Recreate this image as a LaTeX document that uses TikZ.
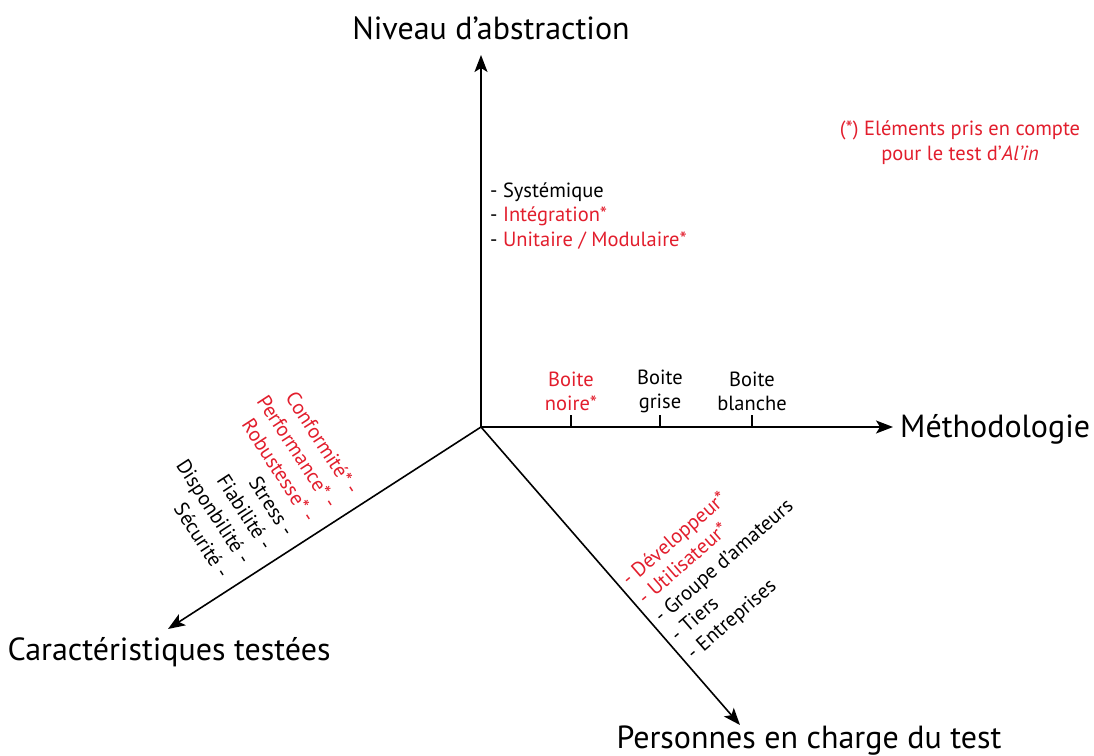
\documentclass[tikz,border=0pt]{standalone}
\usepackage{fontspec}
\setmainfont{PT Sans}
\usetikzlibrary{arrows.meta}
\definecolor{accent}{RGB}{226,30,45}
\begin{document}
\begin{tikzpicture}[x=1pt,y=1pt,
  axis/.style={line width=1.6pt,-{Stealth[length=17pt,width=13pt,inset=4pt]}},
  big/.style={font=\fontsize{32}{38}\selectfont, inner sep=0pt},
  small/.style={font=\fontsize{20.5}{25}\selectfont, inner sep=0pt},
  hl/.style={text=accent},
  tickmark/.style={line width=1.2pt}]
\useasboundingbox (0,0) rectangle (1094,755);
% axes
\coordinate (O) at (481,328);
\coordinate (T) at (481,700);
\coordinate (R) at (893,328);
\coordinate (LL) at (168,126);
\coordinate (LR) at (740,30);
\draw[axis] (O) -- (T);
\draw[axis] (O) -- (R);
\draw[axis] (O) -- (LL);
\draw[axis] (O) -- (LR);
% axis titles
\node[big, anchor=base] (tT) at (491,715) {Niveau d’abstraction};
\node[big, anchor=base west] (tR) at (900,317) {Méthodologie};
\node[big, anchor=base] (tLL) at (169,95) {Caractéristiques testées};
\node[big, anchor=base] (tLR) at (809,7) {Personnes en charge du test};
% note
\node[small, hl, anchor=base] (n1) at (960,619) {(*) Eléments pris en compte};
\node[small, hl, anchor=base] (n2) at (960,594) {pour le test d’\textit{Al’in}};
% vertical axis list
\node[small, anchor=base west] (v1) at (490,557) {- Systémique};
\node[small, anchor=base west] (v2) at (490,533) {- \textcolor{accent}{Intégration*}};
\node[small, anchor=base west] (v3) at (490,508) {- \textcolor{accent}{Unitaire / Modulaire*}};
% ticks on methodology axis
\coordinate (k1) at (571,328);
\coordinate (k2) at (660,328);
\coordinate (k3) at (752,328);
\draw[tickmark] (k1) -- ++(0,12);
\draw[tickmark] (k2) -- ++(0,12);
\draw[tickmark] (k3) -- ++(0,12);
\node[small, hl, anchor=base] (b1a) at (571,368) {Boite};
\node[small, hl, anchor=base] (b1b) at (571,344) {noire*};
\node[small, anchor=base] (b2a) at (660,370) {Boite};
\node[small, anchor=base] (b2b) at (660,346) {grise};
\node[small, anchor=base] (b3a) at (752,368) {Boite};
\node[small, anchor=base] (b3b) at (752,344) {blanche};
% characteristics (lower left)
\begin{scope}[every node/.style={small, anchor=base east, rotate=-57}]
\node[hl] (c1) at (348.5,259.0) {Conformité* -};
\node[hl] (c2) at (326.9,245.1) {Performance* -};
\node[hl] (c3) at (305.3,231.2) {Robustesse* -};
\node (c4) at (283.7,217.3) {Stress -};
\node (c5) at (262.1,203.4) {Fiabilité -};
\node (c6) at (240.5,189.5) {Disponbilité -};
\node (c7) at (218.9,175.6) {Sécurité -};
\end{scope}
% persons (lower right)
\begin{scope}[every node/.style={small, anchor=base west, rotate=41}]
\node[hl] (p1) at (629.0,168.0) {- Développeur*};
\node[hl] (p2) at (645.2,149.6) {- Utilisateur*};
\node (p3) at (661.4,131.2) {- Groupe d’amateurs};
\node (p4) at (677.6,112.8) {- Tiers};
\node (p5) at (693.8,94.4) {- Entreprises};
\end{scope}
\end{tikzpicture}
\end{document}
